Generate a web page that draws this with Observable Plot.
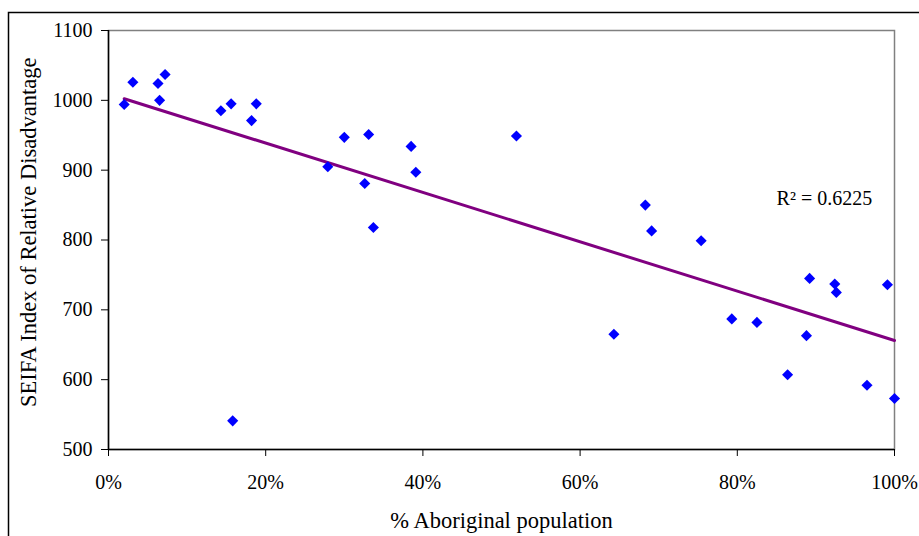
<!DOCTYPE html>
<html>
<head>
<meta charset="utf-8">
<script src="https://cdn.jsdelivr.net/npm/d3@7"></script>
<script src="https://cdn.jsdelivr.net/npm/@observablehq/plot@0.6"></script>
<style>
  html, body { margin: 0; padding: 0; background: white; }
  #chart { position: relative; width: 919px; height: 536px; overflow: hidden; }
</style>
</head>
<body>
<div id="chart"></div>
<script>
// % Aboriginal population (fraction) and SEIFA index
const pctAboriginal = [0.020, 0.031, 0.063, 0.072, 0.065, 0.143, 0.156, 0.158, 0.182, 0.188,
                       0.279, 0.300, 0.331, 0.326, 0.337, 0.385, 0.391, 0.519, 0.643, 0.683,
                       0.691, 0.754, 0.793, 0.825, 0.864, 0.888, 0.892, 0.924, 0.926, 0.965,
                       0.991, 1.000];
const seifaIndex = [994, 1026, 1024, 1037, 1000, 985, 995, 541, 971, 995,
                    905, 947, 951, 881, 818, 934, 897, 949, 665, 850,
                    813, 799, 687, 682, 607, 663, 745, 737, 725, 592,
                    736, 573];
const xTicks = [0, 0.2, 0.4, 0.6, 0.8, 1.0];
const yTicks = [500, 600, 700, 800, 900, 1000, 1100];
const xLabel = "% Aboriginal population";
const yLabel = "SEIFA Index of Relative Disadvantage";
const r2Label = "R\u00B2 = 0.6225";

const data = pctAboriginal.map((x, i) => ({x, y: seifaIndex[i]}));

const plot = Plot.plot({
  width: 919,
  height: 536,
  marginLeft: 108,
  marginRight: 25,
  marginTop: 30,
  marginBottom: 87,
  style: {
    fontFamily: "'Liberation Serif', 'Times New Roman', serif",
    fontSize: "20px",
    color: "black",
    background: "white",
    overflow: "visible"
  },
  x: {domain: [0, 1]},
  y: {domain: [500, 1100]},
  marks: [
    Plot.frame({stroke: "#808080", strokeWidth: 1.5}),
    Plot.ruleX([0], {stroke: "black", strokeWidth: 1.5}),
    Plot.ruleY([500], {stroke: "black", strokeWidth: 1.5}),
    Plot.axisX({ticks: xTicks, tickFormat: d3.format(".0%"), tickSize: 7, tickPadding: 18,
                label: null, stroke: "black"}),
    Plot.axisY({ticks: yTicks, tickFormat: d3.format("d"), tickSize: 7, tickPadding: 9,
                label: null, stroke: "black"}),
    Plot.text([xLabel], {frameAnchor: "bottom", dy: 71, text: d => d, fontSize: 22.5,
                         lineAnchor: "middle", textAnchor: "middle"}),
    Plot.text([yLabel], {frameAnchor: "left", y: () => 811, dx: -80, rotate: -90, text: d => d,
                         fontSize: 22.5, lineAnchor: "middle", textAnchor: "middle"}),
    Plot.linearRegressionY(data, {x: "x", y: "y", stroke: "#800080", strokeWidth: 3, ci: 0}),
    Plot.dot(data, {x: "x", y: "y", symbol: "diamond2", fill: "#0000FF", r: 5}),
    Plot.text([r2Label], {x: 0.85, y: 859, text: d => d, textAnchor: "start", fontSize: 20})
  ]
});

document.getElementById("chart").appendChild(plot);

// outer chart border (as in the original)
d3.select(plot).append("path")
  .attr("d", "M8.5,536V12.5H919")
  .attr("fill", "none")
  .attr("stroke", "black")
  .attr("stroke-width", 1.5);
</script>
</body>
</html>
